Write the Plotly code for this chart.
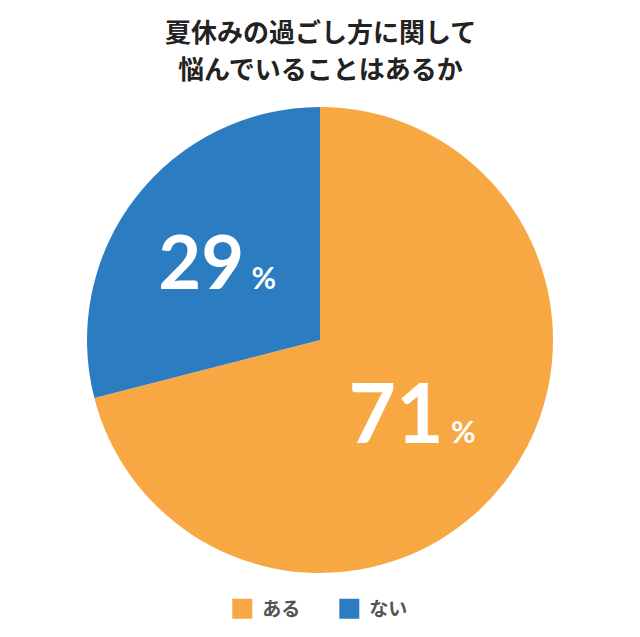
import plotly.graph_objects as go

# data
labels = ["ある", "ない"]
values = [71, 29]
colors = ["#F7A843", "#2B7CC0"]
title_lines = ["夏休みの過ごし方に関して", "悩んでいることはあるか"]

FONT = "Noto Sans CJK JP"
NUM_FONT = "Lato"

fig = go.Figure()
fig.add_trace(
    go.Pie(
        labels=labels,
        values=values,
        marker=dict(colors=colors, line=dict(width=0)),
        sort=False,
        direction="clockwise",
        rotation=0,
        textposition="inside",
        insidetextorientation="horizontal",
        texttemplate="%{value}<span style='font-size:30px'> %</span>",
        textfont=dict(family=NUM_FONT, size=[82, 74], color="white", weight="bold"),
        showlegend=False,
        hoverinfo="label+percent",
    )
)

# legend entries with bigger square symbols
for lab, col in zip(labels, colors):
    fig.add_trace(
        go.Scatter(
            x=[None],
            y=[None],
            mode="markers",
            name=lab,
            marker=dict(symbol="square", size=16, color=col, line=dict(width=4, color=col)),
        )
    )

# title, two lines spaced like the original
for i, line in enumerate(title_lines):
    fig.add_annotation(
        text="<b>" + line + "</b>",
        xref="paper",
        yref="paper",
        x=0.5,
        y=[1.165, 1.084][i],
        xanchor="center",
        yanchor="middle",
        showarrow=False,
        font=dict(family=FONT, size=26, color="#222222"),
    )

fig.update_layout(
    width=640,
    height=637,
    paper_bgcolor="white",
    plot_bgcolor="white",
    margin=dict(l=79, r=95, t=99, b=72),
    xaxis=dict(visible=False),
    yaxis=dict(visible=False),
    legend=dict(
        orientation="h",
        x=0.52,
        xanchor="center",
        y=-0.036,
        yanchor="top",
        font=dict(family=FONT, size=19, color="#555555", weight="bold"),
        itemwidth=30,
        entrywidth=62,
    ),
)

fig.write_html("out.html")
